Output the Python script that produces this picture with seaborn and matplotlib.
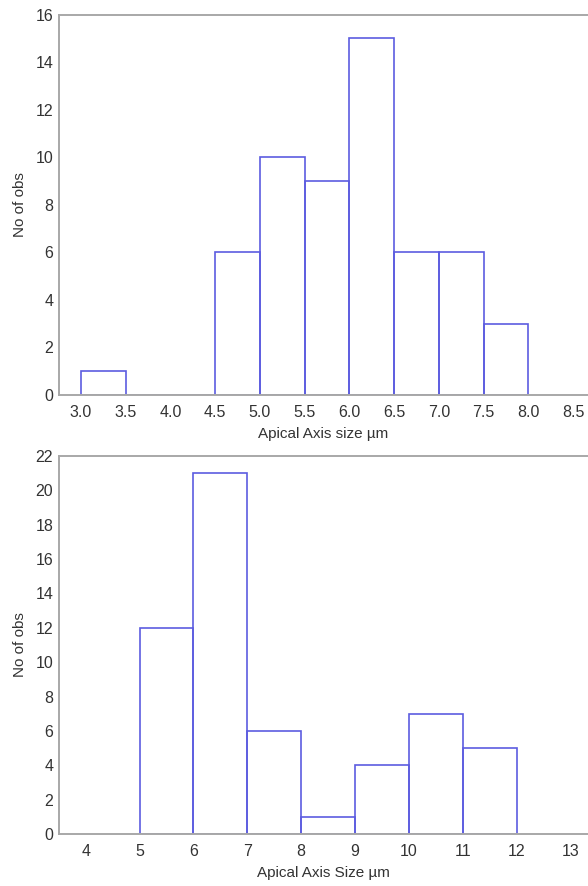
import numpy as np
import matplotlib
matplotlib.use("Agg")
import matplotlib.pyplot as plt
import seaborn as sns

# Histograma superior: tamanho do eixo apical (classes de 0.5 µm)
top_bins = [3.0, 3.5, 4.0, 4.5, 5.0, 5.5, 6.0, 6.5, 7.0, 7.5]
top_counts = [1, 0, 0, 6, 10, 9, 15, 6, 6, 3]
top_xticks = [3.0, 3.5, 4.0, 4.5, 5.0, 5.5, 6.0, 6.5, 7.0, 7.5, 8.0, 8.5]
top_yticks = [0, 2, 4, 6, 8, 10, 12, 14, 16]

# Histograma inferior: classes de 1 µm
bot_bins = [5, 6, 7, 8, 9, 10, 11]
bot_counts = [12, 21, 6, 1, 4, 7, 5]
bot_xticks = [4, 5, 6, 7, 8, 9, 10, 11, 12, 13]
bot_yticks = [0, 2, 4, 6, 8, 10, 12, 14, 16, 18, 20, 22]

sns.set_theme(style="white")
plt.rcParams["font.family"] = ["Liberation Sans", "DejaVu Sans"]

EDGE = "#5c5ce0"
SPINE = "#a8a8a8"
TEXT = "#333333"

fig = plt.figure(figsize=(5.88, 8.86), dpi=100)
ax1 = fig.add_axes([0.0998, 0.5542, 0.9002, 0.4292])
ax2 = fig.add_axes([0.0998, 0.0587, 0.9002, 0.4266])


def desenha(ax, bins, counts, width, xticks, yticks, xlim, ylim, xlabel, fmt):
    mids = np.array(bins) + width / 2
    sns.histplot(x=mids, weights=counts, binwidth=width,
                 binrange=(bins[0], bins[-1] + width),
                 fill=False, element="bars", color=EDGE,
                 linewidth=1.2, ax=ax)
    ax.set_xlim(*xlim)
    ax.set_ylim(*ylim)
    ax.set_xticks(xticks)
    ax.set_xticklabels([fmt.format(t) for t in xticks])
    ax.set_yticks(yticks)
    ax.tick_params(length=0, labelsize=11.5, colors=TEXT)
    ax.tick_params(axis="x", pad=7.5)
    ax.tick_params(axis="y", pad=4)
    ax.set_xlabel(xlabel, fontsize=11, color=TEXT, labelpad=5)
    ax.set_ylabel("No of obs", fontsize=11, color=TEXT, labelpad=6)
    for s in ["left", "top", "bottom"]:
        ax.spines[s].set_color(SPINE)
        ax.spines[s].set_linewidth(1.4)
    ax.spines["right"].set_visible(False)


desenha(ax1, top_bins, top_counts, 0.5, top_xticks, top_yticks,
        (2.75, 8.667), (0, 16), "Apical Axis size µm", "{:.1f}")
desenha(ax2, bot_bins, bot_counts, 1.0, bot_xticks, bot_yticks,
        (3.5, 13.32), (0, 22), "Apical Axis Size µm", "{:d}")

fig.savefig("out.png", dpi=100)
